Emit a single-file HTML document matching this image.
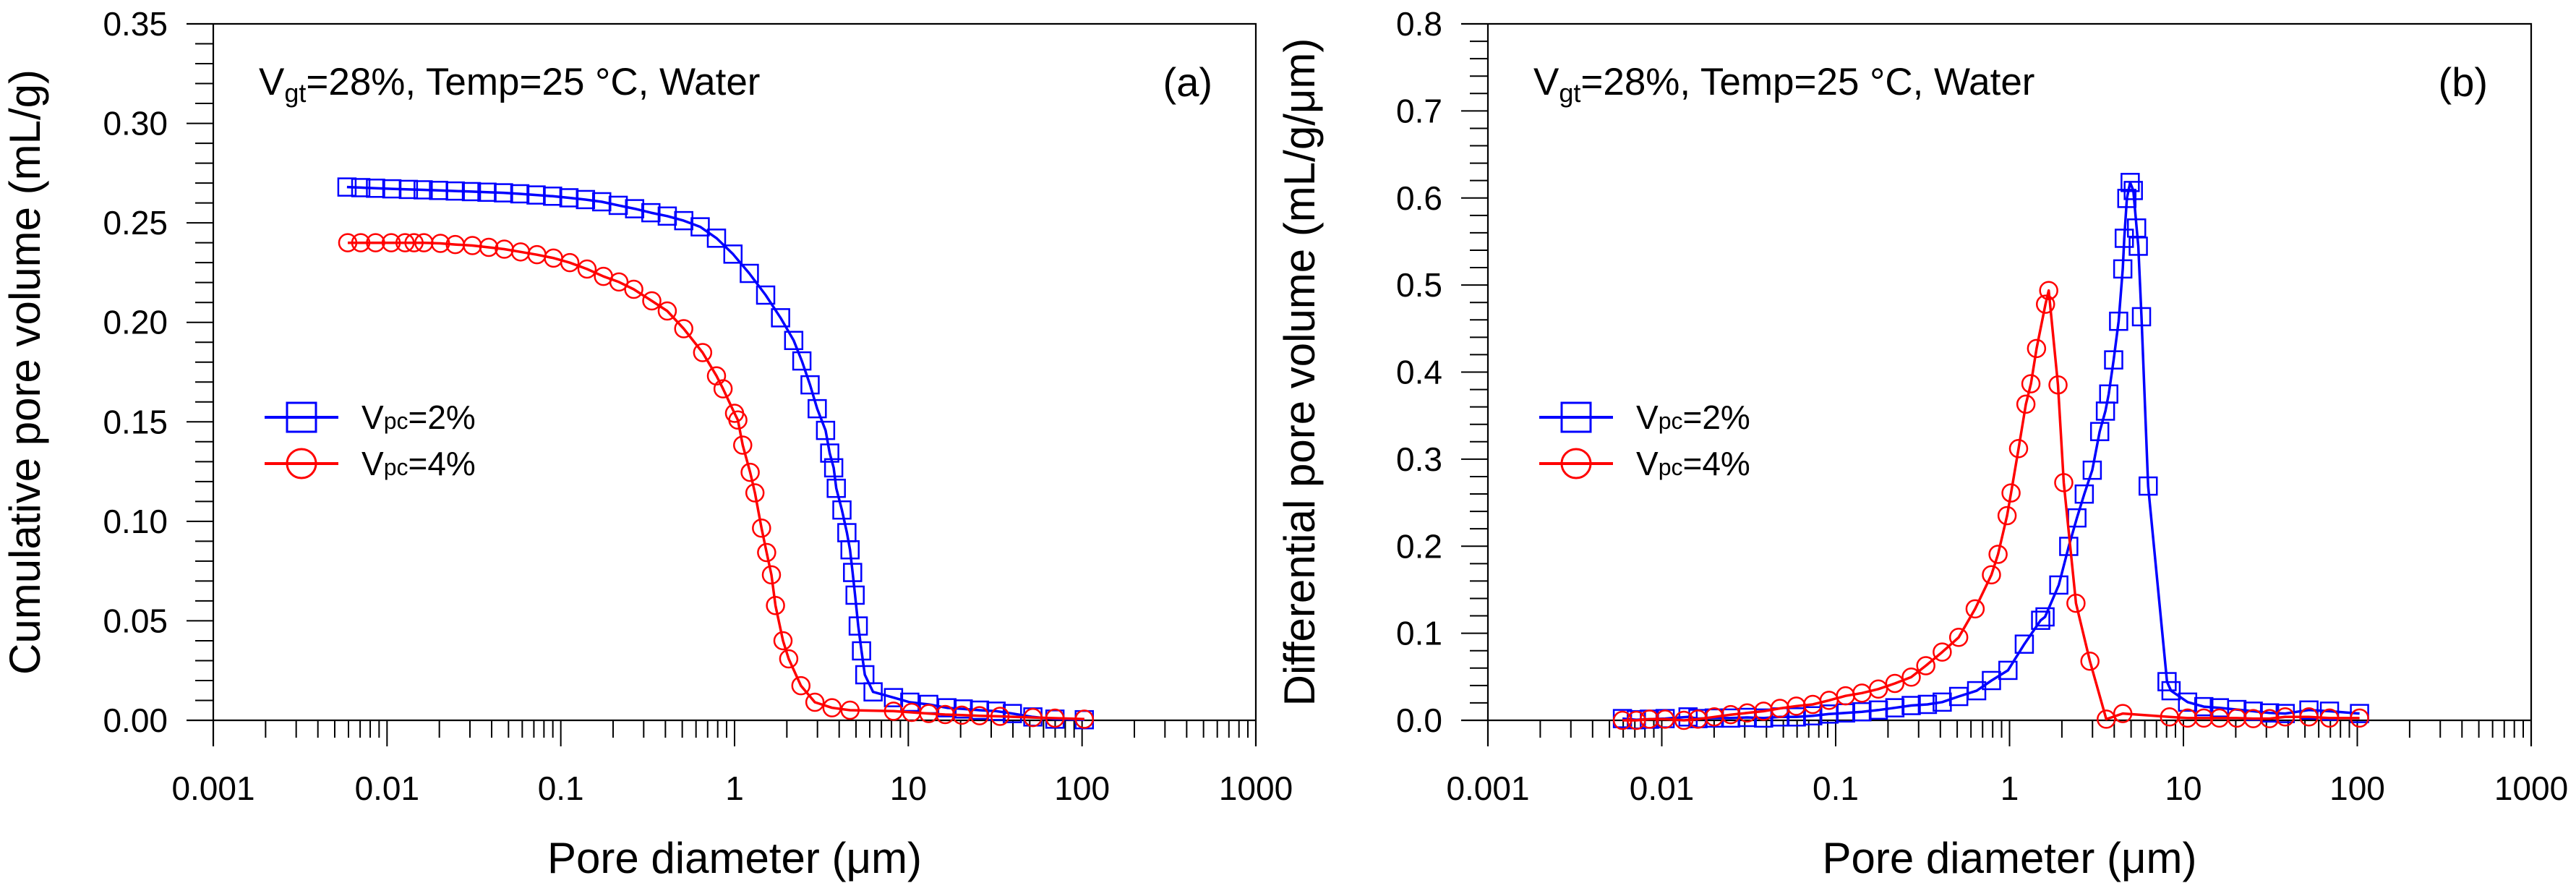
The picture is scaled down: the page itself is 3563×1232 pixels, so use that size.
<!DOCTYPE html>
<html><head><meta charset="utf-8"><title>Pore volume distribution</title>
<style>
html,body{margin:0;padding:0;background:#fff;}
svg{display:block;font-family:"Liberation Sans",Arial,sans-serif;}
</style></head>
<body>
<svg id="chart" xmlns="http://www.w3.org/2000/svg" width="3563" height="1232" viewBox="0 0 3563 1232">
<rect width="3563" height="1232" fill="#fff"/>
</svg>
<script>
// ---------- data ----------
const xTickLabels = ["0.001","0.01","0.1","1","10","100","1000"];
const yTicksA = ["0.00","0.05","0.10","0.15","0.20","0.25","0.30","0.35"];
const yTicksB = ["0.0","0.1","0.2","0.3","0.4","0.5","0.6","0.7","0.8"];
const seriesNames = ["Vpc=2%","Vpc=4%"];

// (a) cumulative, Vpc=2%
const cumBlueX = [0.00588,0.00706,0.00859,0.01066,0.01327,0.01614,0.0198,0.0247,0.0306,0.0376,0.0468,0.0581,0.0721,0.0897,0.1114,0.1387,0.172,0.214,0.266,0.330,0.410,0.510,0.634,0.787,0.979,1.216,1.51,1.84,2.19,2.44,2.72,2.99,3.34,3.53,3.72,3.85,4.15,4.43,4.62,4.78,4.94,5.15,5.38,5.62,6.27,8.22,10.2,13.1,16.7,20.7,25.7,32.0,39.7,52.1,69.8,103];
const cumBlueY = [0.268,0.2677,0.2674,0.2671,0.2668,0.2666,0.2663,0.266,0.2657,0.2654,0.2651,0.2646,0.264,0.2634,0.2626,0.2617,0.2606,0.2588,0.2571,0.2551,0.2534,0.2511,0.248,0.2423,0.2343,0.2246,0.2137,0.2023,0.1909,0.1806,0.1686,0.1566,0.1457,0.1343,0.1269,0.1166,0.1057,0.0943,0.0857,0.0743,0.0629,0.0474,0.0349,0.0229,0.0143,0.0114,0.0091,0.008,0.0063,0.0057,0.0051,0.0046,0.0034,0.0017,0.0006,0.0003];
// (a) cumulative, Vpc=4%
const cumRedX = [0.00594,0.00706,0.00859,0.01057,0.0127,0.0143,0.0163,0.0203,0.0247,0.031,0.0385,0.0473,0.0587,0.0729,0.0908,0.1127,0.1416,0.176,0.216,0.263,0.334,0.410,0.510,0.655,0.787,0.859,1.0,1.045,1.114,1.23,1.31,1.43,1.53,1.63,1.72,1.90,2.05,2.41,2.90,3.64,4.62,8.22,10.45,13.1,16.3,20.3,25.7,33.7,52.1,69.8,103];
const cumRedY = [0.24,0.24,0.24,0.24,0.24,0.24,0.24,0.2397,0.2391,0.2386,0.2377,0.2368,0.2354,0.234,0.2323,0.23,0.2268,0.2231,0.2203,0.2166,0.2108,0.2057,0.1968,0.1848,0.1731,0.1666,0.1543,0.1509,0.1383,0.1246,0.1143,0.0966,0.0843,0.0731,0.0577,0.04,0.0309,0.0174,0.0091,0.0063,0.0051,0.0046,0.004,0.0034,0.0029,0.0026,0.0023,0.002,0.0014,0.0011,0.0006];
// (b) differential, Vpc=2%
const difBlueX = [0.00594,0.00714,0.00849,0.01045,0.01416,0.01614,0.02004,0.0249,0.031,0.0385,0.0478,0.0594,0.0738,0.0916,0.114,0.1416,0.176,0.219,0.272,0.337,0.410,0.510,0.647,0.787,0.979,1.216,1.51,1.60,1.92,2.19,2.44,2.69,2.99,3.30,3.56,3.72,3.97,4.24,4.48,4.57,4.73,4.94,5.15,5.38,5.50,5.74,6.27,8.05,8.49,10.57,13.1,16.1,20.3,25.2,31.3,38.5,52.7,69.2,103];
const difBlueY = [0.002,0.0007,0.0013,0.002,0.0039,0.002,0.0026,0.0026,0.0033,0.0026,0.0039,0.0039,0.0052,0.0072,0.0085,0.0098,0.0118,0.0144,0.017,0.0183,0.0209,0.0274,0.034,0.0457,0.0574,0.0875,0.1149,0.1188,0.1554,0.1998,0.2325,0.2599,0.2873,0.3317,0.3552,0.3748,0.414,0.4584,0.5185,0.5537,0.5995,0.6178,0.6086,0.5655,0.5446,0.4636,0.2691,0.0444,0.034,0.0209,0.0157,0.0144,0.0124,0.0105,0.0085,0.0078,0.0118,0.0105,0.0078];
// (b) differential, Vpc=4%
const difRedX = [0.00594,0.00714,0.00849,0.01045,0.0134,0.01614,0.02004,0.0249,0.031,0.0385,0.0478,0.0594,0.0738,0.0916,0.114,0.1416,0.176,0.219,0.272,0.330,0.410,0.510,0.634,0.787,0.859,0.968,1.02,1.127,1.242,1.327,1.43,1.61,1.68,1.90,2.05,2.41,2.90,3.60,4.48,8.32,10.57,13.1,16.1,20.3,25.2,31.3,38.5,52.7,69.2,103];
const difRedY = [0.0,0.0,0.0013,0.0013,0.0,0.0013,0.0039,0.0065,0.0085,0.0105,0.0137,0.0163,0.0183,0.0229,0.0281,0.0313,0.0359,0.0424,0.0496,0.0627,0.0784,0.0953,0.128,0.1672,0.1907,0.2351,0.2612,0.3121,0.3631,0.3866,0.4271,0.478,0.4937,0.3853,0.273,0.1345,0.0679,0.0013,0.0078,0.0039,0.0026,0.0026,0.0026,0.0026,0.002,0.002,0.0039,0.0039,0.0026,0.0026];

// ---------- drawing ----------
const NS = "http://www.w3.org/2000/svg";
const svg = document.getElementById("chart");
function mk(tag, attrs, parent){
  const e = document.createElementNS(NS, tag);
  for (const k in attrs) e.setAttribute(k, attrs[k]);
  (parent||svg).appendChild(e);
  return e;
}

function panel(cfg){
  const g = mk("g", {});
  
  
  const L=cfg.left, R=cfg.right, T=33, B=996;
  const xs = v => L + (Math.log10(v)+3)/6*(R-L);
  const ys = v => B - v/cfg.ymax*(B-T);

  const frame = mk("path", {d:`M${L-37},${T}H${R}V${B+36}M${L},${T}V${B+36}M${L-37},${B}H${R}`, stroke:"#000","stroke-width":2.2, fill:"none"}, g);
  
  

  const nMin = Math.round(cfg.ymax/cfg.minorStep);
  for (let i=0;i<=nMin;i++){
    const v=i*cfg.minorStep, y=ys(v);
    const isMaj = i % cfg.minorPerMajor === 0;
    const t = mk("line",{x1:isMaj?L-37:L-25,x2:L,y1:y,y2:y,stroke:"#000","stroke-width":2},g);
    
    
  }
  cfg.yLabels.forEach((lab,i)=>{
    const y = ys(i*cfg.minorStep*cfg.minorPerMajor);
    const t = mk("text",{x:L-63,y:y+16,"font-size":46,"text-anchor":"end",fill:"#000"},g);
    t.textContent = lab;
    
    
  });
  for (let d=-3; d<3; d++){
    for (let m=2;m<=9;m++){
      const x = xs(m*Math.pow(10,d));
      const t = mk("line",{x1:x,x2:x,y1:B,y2:B+24,stroke:"#000","stroke-width":2},g);
      
      
    }
  }
  xTickLabels.forEach((lab,i)=>{
    const x = xs(Math.pow(10,i-3));
    const tk = mk("line",{x1:x,x2:x,y1:B,y2:B+36,stroke:"#000","stroke-width":2},g);
    
    
    const t = mk("text",{x:x,y:1106,"font-size":46,"text-anchor":"middle",fill:"#000"},g);
    t.textContent = lab;
    
    
  });
  const xt = mk("text",{x:(L+R)/2,y:1207,"font-size":60,"text-anchor":"middle",fill:"#000"},g);
  xt.textContent = "Pore diameter (\u03bcm)";
  
  
  const yt = mk("text",{x:0,y:0,"font-size":60,"text-anchor":"middle",fill:"#000",transform:`translate(${L-240},${(T+B)/2}) rotate(-90)`},g);
  yt.textContent = cfg.ytitle;
  
  

  const an = mk("text",{x:L+63,y:131,"font-size":53,fill:"#000"},g);
  an.innerHTML = 'V<tspan font-size="36" dy="10">gt</tspan><tspan dy="-10">=28%, Temp=25 \u00b0C, Water</tspan>';
  
  
  const pl = mk("text",{x:R-60,y:133,"font-size":56,"text-anchor":"end",fill:"#000"},g);
  pl.textContent = cfg.letter;
  
  

  const series = [
    {x:cfg.bx, y:cfg.by, color:"#0000ff", shape:"square", name:"series-vpc-2"},
    {x:cfg.rx, y:cfg.ry, color:"#ff0000", shape:"circle", name:"series-vpc-4"}
  ];
  series.forEach(s=>{
    const sg = mk("g",{},g);
    
    
    let d = "";
    s.x.forEach((xv,i)=>{ d += (i?"L":"M")+xs(xv).toFixed(1)+","+ys(s.y[i]).toFixed(1); });
    const p = mk("path",{d:d,fill:"none",stroke:s.color,"stroke-width":3.5,"stroke-linejoin":"round"},sg);
    
    
    s.x.forEach((xv,i)=>{
      const cx=xs(xv), cy=ys(s.y[i]);
      let m;
      if (s.shape==="square") m = mk("rect",{x:cx-12,y:cy-12,width:24,height:24,fill:"none",stroke:s.color,"stroke-width":2.5},sg);
      else m = mk("circle",{cx:cx,cy:cy,r:12,fill:"none",stroke:s.color,"stroke-width":2.5},sg);
      
      
    });
  });

  const lg = mk("g",{},g);
  
  
  [[577,"#0000ff","square","2%"],[641,"#ff0000","circle","4%"]].forEach((e,i)=>{
    const eg = mk("g",{},lg);
    
    
    const y=e[0], x0=L+71, x1=L+173, cx=(x0+x1)/2;
    mk("line",{x1:x0,x2:x1,y1:y,y2:y,stroke:e[1],"stroke-width":4},eg);
    if (e[2]==="square") mk("rect",{x:cx-20,y:y-20,width:40,height:40,fill:"none",stroke:e[1],"stroke-width":3},eg);
    else mk("circle",{cx:cx,cy:y,r:20,fill:"none",stroke:e[1],"stroke-width":3},eg);
    const t = mk("text",{x:L+205,y:y+16,"font-size":46,fill:"#000"},eg);
    t.innerHTML = 'V<tspan font-size="32">pc</tspan>=' + e[3];
  });
}

panel({name:"panel-a-cumulative", letter:"(a)", left:295, right:1737, ymax:0.35, minorStep:0.01, minorPerMajor:5,
  yLabels:yTicksA, ytitle:"Cumulative pore volume (mL/g)", bx:cumBlueX, by:cumBlueY, rx:cumRedX, ry:cumRedY});
panel({name:"panel-b-differential", letter:"(b)", left:2058, right:3501, ymax:0.8, minorStep:0.02, minorPerMajor:5,
  yLabels:yTicksB, ytitle:"Differential pore volume (mL/g/\u03bcm)", bx:difBlueX, by:difBlueY, rx:difRedX, ry:difRedY});
</script>
</body></html>
